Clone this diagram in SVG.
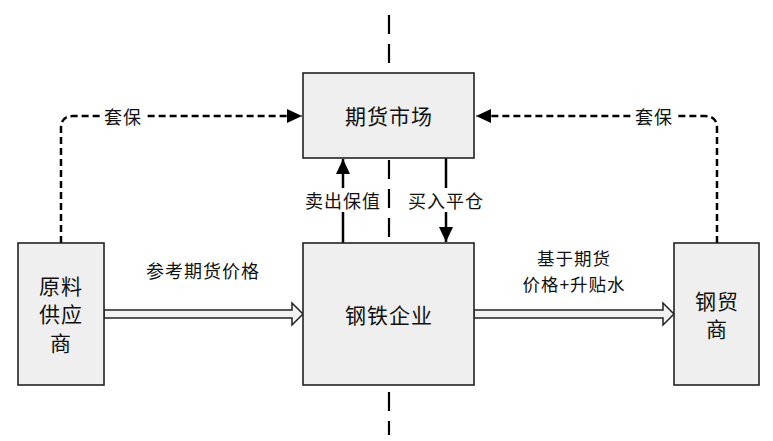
<svg xmlns="http://www.w3.org/2000/svg" width="773" height="441" viewBox="0 0 773 441">
<style>
.box{fill:#efefef;stroke:#222;stroke-width:1.6}
.t{font-family:"Noto Sans CJK SC","Liberation Sans",sans-serif;fill:#111;text-anchor:middle;dominant-baseline:central}
.big{font-size:21px;letter-spacing:1px}
.sm{font-size:18px;letter-spacing:1px}
.two{font-size:17.5px;letter-spacing:1px}
.hedge{fill:none;stroke:#000;stroke-width:2.5;stroke-dasharray:7 4}
.solid{fill:none;stroke:#000;stroke-width:2.5}
.hollow{fill:#f2f2f2;stroke:#222;stroke-width:1.5;stroke-linejoin:miter}
.bg{fill:#fff}
</style>
<defs>
<marker id="ah" markerUnits="userSpaceOnUse" markerWidth="16" markerHeight="16" viewBox="0 0 16 16" refX="15" refY="8" orient="auto">
<path d="M0,1 L15,8 L0,15 Z" fill="#000"/>
</marker>
</defs>
<rect width="773" height="441" fill="#fff"/>
<g id="divider">
<line x1="389" y1="15" x2="389" y2="435" stroke="#000" stroke-width="2.2" stroke-dasharray="19 10"/>
</g>
<g id="connectors">
<path class="hedge" d="M61,243 V128 Q61,116 73,116 H302" marker-end="url(#ah)"/>
<path class="hedge" d="M717,243 V128 Q717,116 705,116 H476" marker-end="url(#ah)"/>
<path class="solid" d="M343,243 V159" marker-end="url(#ah)"/>
<path class="solid" d="M446,158 V242" marker-end="url(#ah)"/>
<polygon class="hollow" points="104,310 292,310 292,303 303,314 292,325 292,318 104,318"/>
<polygon class="hollow" points="474,310 663,310 663,303 674,314 663,325 663,318 474,318"/>
<rect class="bg" x="102" y="104" width="42" height="24"/>
<text class="t sm" x="123" y="116">套保</text>
<rect class="bg" x="633" y="104" width="42" height="24"/>
<text class="t sm" x="654" y="116">套保</text>
<rect class="bg" x="302" y="188" width="82" height="24"/>
<text class="t sm" x="343" y="200">卖出保值</text>
<rect class="bg" x="406" y="188" width="80" height="24"/>
<text class="t sm" x="446" y="200">买入平仓</text>
<text class="t sm" x="203" y="270">参考期货价格</text>
<text class="t two" x="574" y="257">基于期货</text>
<text class="t two" x="574" y="283">价格+升贴水</text>
</g>
<g id="futures">
<rect class="box" x="303" y="73" width="171" height="85"/>
<text class="t big" x="389" y="115">期货市场</text>
</g>
<g id="steel">
<rect class="box" x="303" y="243" width="171" height="142"/>
<text class="t big" x="389" y="314">钢铁企业</text>
</g>
<g id="supplier">
<rect class="box" x="18" y="243" width="86" height="142"/>
<text class="t big" x="61" y="285">原料</text>
<text class="t big" x="61" y="313">供应</text>
<text class="t big" x="61" y="342">商</text>
</g>
<g id="trader">
<rect class="box" x="674" y="243" width="85" height="142"/>
<text class="t big" x="717" y="300">钢贸</text>
<text class="t big" x="717" y="328">商</text>
</g>
</svg>
